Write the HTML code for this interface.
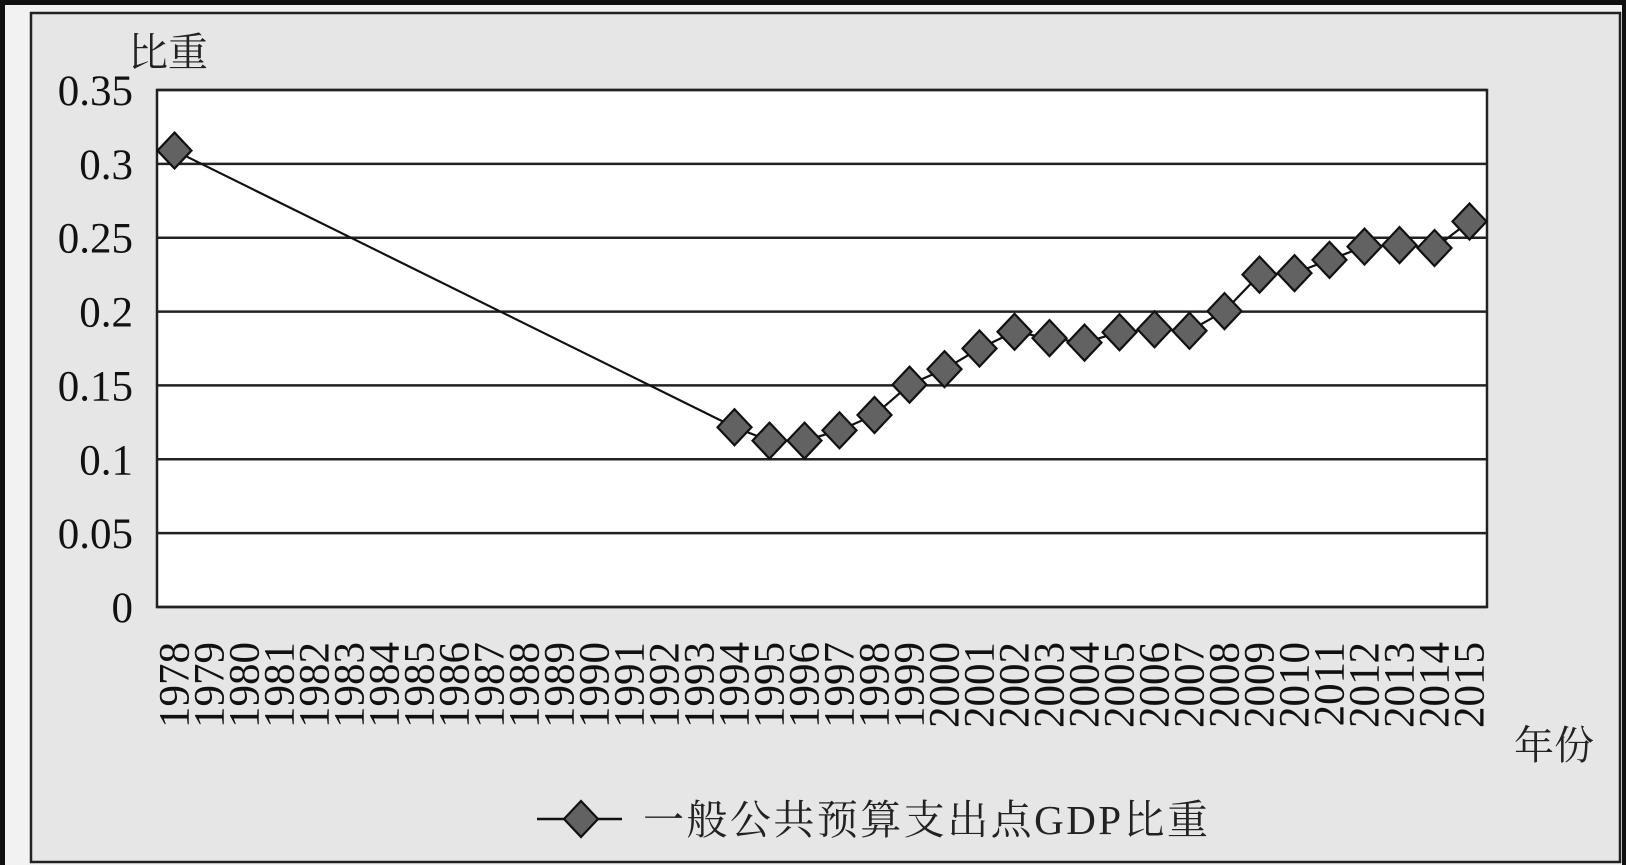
<!DOCTYPE html>
<html><head><meta charset="utf-8"><style>
html,body{margin:0;padding:0;background:#111;width:1626px;height:865px;overflow:hidden}
svg{display:block}
</style></head><body>
<svg width="1626" height="865" xmlns="http://www.w3.org/2000/svg">
<rect x="0" y="0" width="1626" height="865" fill="#111"/>
<rect x="5" y="5" width="1617" height="860" fill="#f2f2f2"/>
<rect x="31" y="13" width="1589" height="849" fill="#e6e6e6" stroke="#222" stroke-width="2.5"/>
<rect x="157" y="90" width="1330" height="517" fill="#fff"/>
<g id="grid"></g>
<rect x="157" y="90" width="1330" height="517" fill="none" stroke="#222" stroke-width="2.5"/>
<g id="series"></g>
<g id="ylabels" font-family="Liberation Serif, serif" font-size="43" fill="#111" text-anchor="end"></g>
<g id="xlabels" font-family="Liberation Serif, serif" font-size="43" fill="#111"></g>
<text x="128" y="66" font-family="Liberation Serif, 'Noto Serif CJK SC', serif" font-size="40" fill="#222">比重</text>
<text x="1514" y="759" font-family="Liberation Serif, 'Noto Serif CJK SC', serif" font-size="40" fill="#222">年份</text>
<g>
<line x1="537" y1="819" x2="622" y2="819" stroke="#111" stroke-width="2.5"/>
<polygon points="581,801 598,819 581,837 564,819" fill="#626262" stroke="#111" stroke-width="2.2"/>
<text x="643" y="834" font-family="Liberation Serif, 'Noto Serif CJK SC', serif" font-size="41" textLength="565" fill="#222">一般公共预算支出点GDP比重</text>
</g>
</svg>
<script>
const years = [];
for (let y = 1978; y <= 2015; y++) years.push(y);
const dataYears = [1978,1994,1995,1996,1997,1998,1999,2000,2001,2002,2003,2004,2005,2006,2007,2008,2009,2010,2011,2012,2013,2014,2015];
const dataValues = [0.309,0.1217,0.1126,0.1126,0.1196,0.130,0.1505,0.161,0.175,0.1863,0.182,0.179,0.186,0.188,0.187,0.2003,0.225,0.226,0.235,0.244,0.245,0.243,0.261];
const yTicks = [0,0.05,0.1,0.15,0.2,0.25,0.3,0.35];
const yTickLabels = ["0","0.05","0.1","0.15","0.2","0.25","0.3","0.35"];

const NS = "http://www.w3.org/2000/svg";
const L = 157, R = 1487, T = 90, B = 607, YMAX = 0.35;
const bw = (R - L) / years.length;
function xPos(yr){ return L + (years.indexOf(yr) + 0.5) * bw; }
function yPos(v){ return B - v / YMAX * (B - T); }

const grid = document.getElementById('grid');
const yl = document.getElementById('ylabels');
yTicks.forEach((t, i) => {
  const ln = document.createElementNS(NS, 'line');
  ln.setAttribute('x1', L); ln.setAttribute('x2', R);
  ln.setAttribute('y1', yPos(t)); ln.setAttribute('y2', yPos(t));
  ln.setAttribute('stroke', '#222'); ln.setAttribute('stroke-width', '2.5');
  
  
  grid.appendChild(ln);
  const tx = document.createElementNS(NS, 'text');
  tx.setAttribute('x', 133); tx.setAttribute('y', yPos(t) + 15);
  tx.textContent = yTickLabels[i];
  
  
  yl.appendChild(tx);
});

const xl = document.getElementById('xlabels');
years.forEach(yr => {
  const tx = document.createElementNS(NS, 'text');
  const x = xPos(yr) + 14;
  tx.setAttribute('transform', 'translate(' + x + ',642) rotate(-90)');
  tx.setAttribute('text-anchor', 'end');
  tx.textContent = String(yr);
  
  
  xl.appendChild(tx);
});

const sg = document.getElementById('series');
const pts = dataYears.map((yr, i) => xPos(yr) + ',' + yPos(dataValues[i])).join(' ');
const pl = document.createElementNS(NS, 'polyline');
pl.setAttribute('points', pts);
pl.setAttribute('fill', 'none'); pl.setAttribute('stroke', '#111'); pl.setAttribute('stroke-width', '2.2');


sg.appendChild(pl);
dataYears.forEach((yr, i) => {
  const cx = xPos(yr), cy = yPos(dataValues[i]);
  const p = document.createElementNS(NS, 'polygon');
  p.setAttribute('points', cx + ',' + (cy - 18) + ' ' + (cx + 17) + ',' + cy + ' ' + cx + ',' + (cy + 18) + ' ' + (cx - 17) + ',' + cy);
  p.setAttribute('fill', '#626262'); p.setAttribute('stroke', '#111'); p.setAttribute('stroke-width', '2.2');
  
  
  sg.appendChild(p);
});
</script>
</body></html>
